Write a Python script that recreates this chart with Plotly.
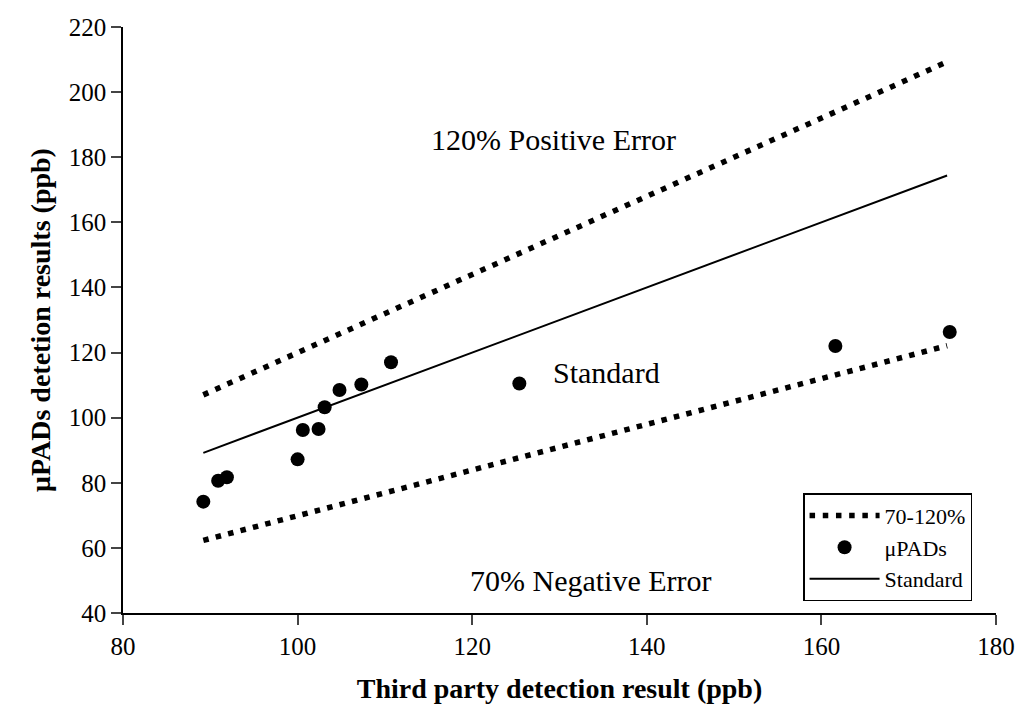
import plotly.graph_objects as go

# Data
upads_x = [89.2, 90.9, 91.9, 100.0, 100.6, 102.4, 103.1, 104.8, 107.3, 110.7, 125.4, 161.6, 174.7]
upads_y = [74.2, 80.6, 81.7, 87.2, 96.2, 96.5, 103.2, 108.5, 110.2, 117.0, 110.5, 122.0, 126.3]

line_x = [89.2, 174.4]
standard_y = [89.2, 174.4]
upper_y = [107.0, 209.3]
lower_y = [62.3, 122.1]

x_ticks = [80, 100, 120, 140, 160, 180]
y_ticks = [40, 60, 80, 100, 120, 140, 160, 180, 200, 220]

FONT = "Liberation Serif, Times New Roman, serif"

fig = go.Figure()

fig.add_trace(go.Scatter(
    x=line_x, y=upper_y, mode="lines", name="70-120%",
    line=dict(color="black", width=5.5, dash="5.5px,7.7px"), legendgroup="err",
))
fig.add_trace(go.Scatter(
    x=line_x, y=lower_y, mode="lines", name="70-120%", showlegend=False,
    line=dict(color="black", width=5.5, dash="5.5px,7.3px"), legendgroup="err",
))
fig.add_trace(go.Scatter(
    x=upads_x, y=upads_y, mode="markers", name="μPADs",
    marker=dict(color="black", size=14, symbol="circle"),
))
fig.add_trace(go.Scatter(
    x=line_x, y=standard_y, mode="lines", name="Standard",
    line=dict(color="black", width=2),
))

annotations = [
    dict(x=129.3, y=185.3, text="120% Positive Error"),
    dict(x=135.4, y=114.0, text="Standard"),
    dict(x=133.6, y=50.1, text="70% Negative Error"),
]
for a in annotations:
    fig.add_annotation(x=a["x"], y=a["y"], text=a["text"], showarrow=False,
                       font=dict(family=FONT, size=30, color="black"),
                       xref="x", yref="y")

fig.update_layout(
    width=1017, height=709,
    margin=dict(l=123, r=21, t=27, b=96),
    paper_bgcolor="white", plot_bgcolor="white",
    font=dict(family=FONT, size=22, color="black"),
    legend=dict(
        x=0.779, y=0.02, xanchor="left", yanchor="bottom",
        bordercolor="black", borderwidth=1.5, bgcolor="white",
        font=dict(family=FONT, size=22, color="black"),
        tracegroupgap=0, itemwidth=70,
    ),
)

fig.update_xaxes(
    range=[80, 180], tickvals=x_ticks, ticks="outside", ticklen=10, tickwidth=1.5,
    showline=True, linecolor="black", linewidth=1.5, showgrid=False, zeroline=False,
    automargin=False,
    tickfont=dict(family=FONT, size=25, color="black"),
    title=dict(text="<b>Third party detection result (ppb)</b>",
               font=dict(family=FONT, size=28, color="black"), standoff=20),
)
fig.update_yaxes(
    range=[40, 220], tickvals=y_ticks, ticks="outside", ticklen=10, tickwidth=1.5,
    showline=True, linecolor="black", linewidth=1.5, showgrid=False, zeroline=False,
    automargin=False,
    tickfont=dict(family=FONT, size=25, color="black"),
    title=dict(text="<b>μPADs detetion results (ppb)</b>",
               font=dict(family=FONT, size=28, color="black"), standoff=10),
)

fig.write_html("out.html", config={"displayModeBar": False})

# remove the default page margin so the figure sits at the window's top-left corner
with open("out.html", "r", encoding="utf-8") as f:
    html = f.read()
html = html.replace("<body>", '<body style="margin:0;padding:0;">', 1)
with open("out.html", "w", encoding="utf-8") as f:
    f.write(html)
